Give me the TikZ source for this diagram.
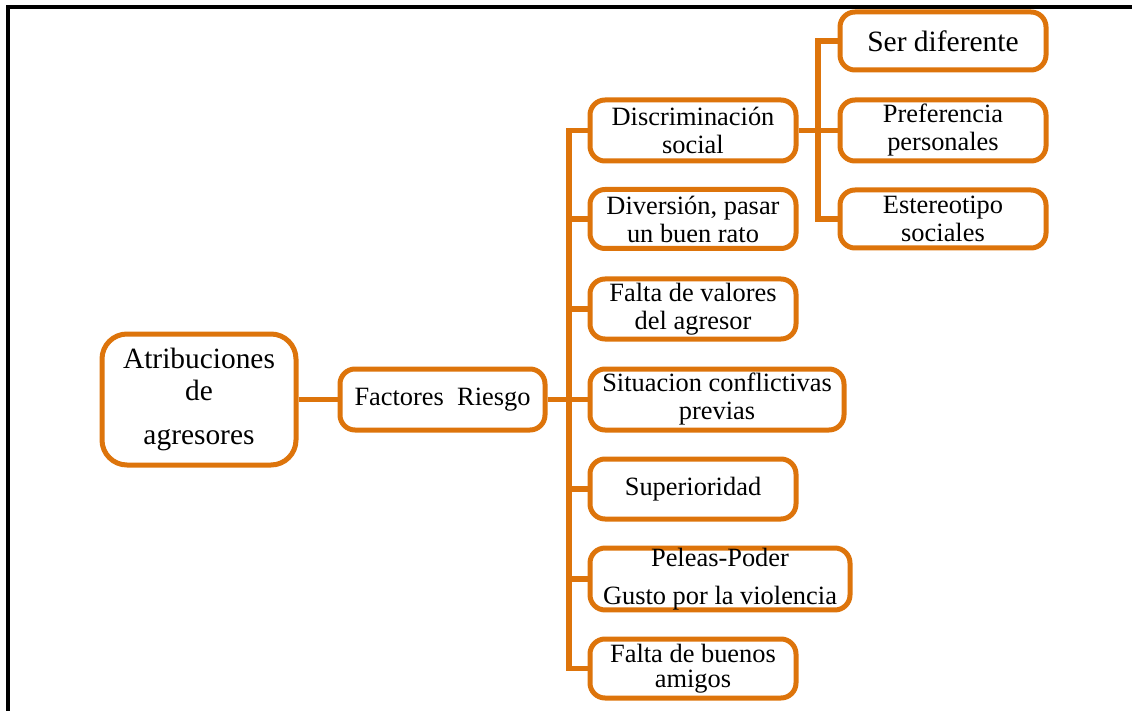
\documentclass[tikz,border=0pt]{standalone}
\usepackage{fontspec}
\setmainfont{Liberation Serif}
\definecolor{boxorange}{RGB}{221,116,11}
\tikzset{
  item/.style={draw=boxorange, line width=5pt, rounded corners=15pt, fill=white,
    align=center, inner sep=0pt, font=\fontsize{26.4}{28}\selectfont},
  link/.style={draw=boxorange, line width=5.5pt, line join=miter},
}
\begin{document}
\begin{tikzpicture}[x=1pt,y=-1pt]
\useasboundingbox (0,0) rectangle (1132,711);
% frame along the top and left edges
\draw[line width=4.5pt, line join=miter] (8,711) -- (8,7) -- (1132,7);

% root and first level
\node[item, rounded corners=25pt, minimum width=194pt, minimum height=131pt,
      font=\fontsize{29.4}{32}\selectfont] (attr) at (199,399.5)
      {Atribuciones\\ de\\[12pt] agresores};
\node[item, minimum width=205pt, minimum height=61pt] (fac) at (442.5,399.5)
      {Factores\ \ Riesgo};

% risk factors
\node[item, minimum width=206pt, minimum height=61pt] (d1) at (693,130.5)
      {Discriminación\\ social};
\node[item, minimum width=206pt, minimum height=59pt] (d2) at (693,219)
      {Diversión, pasar\\ un buen rato};
\node[item, minimum width=206pt, minimum height=60pt] (d3) at (693,309)
      {Falta de valores\\ del agresor};
\node[item, minimum width=254pt, minimum height=61pt] (d4) at (717,399.5)
      {Situacion conflictivas\\ previas};
\node[item, minimum width=206pt, minimum height=60pt] (d5) at (693,489)
      {Superioridad};
\node[item, minimum width=260pt, minimum height=59pt,
      font=\fontsize{26.4}{38}\selectfont] (d6) at (720,579)
      {Peleas-Poder\\ Gusto por la violencia};
\node[item, minimum width=206pt, minimum height=59pt,
      font=\fontsize{26.4}{25.5}\selectfont] (d7) at (693,668.5)
      {Falta de buenos\\ amigos};

% kinds of discrimination
\node[item, minimum width=206pt, minimum height=58pt,
      font=\fontsize{29.5}{30}\selectfont] (s1) at (943,41)
      {Ser diferente};
\node[item, minimum width=206pt, minimum height=61pt] (s2) at (943,130.5)
      {Preferencia\\ personales};
\node[item, minimum width=206pt, minimum height=58pt] (s3) at (943,219)
      {Estereotipo\\ sociales};

% trunk positions
\coordinate (tk) at (569,0);
\coordinate (st) at (818,0);

% connectors
\draw[link] (attr.east) -- (fac.west);
\draw[link] (fac.east) -- (d4.west);
\draw[link] (d1.west) -- (d1.west -| tk) -- (d7.west -| tk) -- (d7.west);
\foreach \n in {d2,d3,d5,d6}
  \draw[link] (\n.west) -- (\n.west -| tk);
\draw[link] (d1.east) -- (s2.west);
\draw[link] (s1.west) -- (s1.west -| st) -- (s3.west -| st) -- (s3.west);
\end{tikzpicture}
\end{document}
